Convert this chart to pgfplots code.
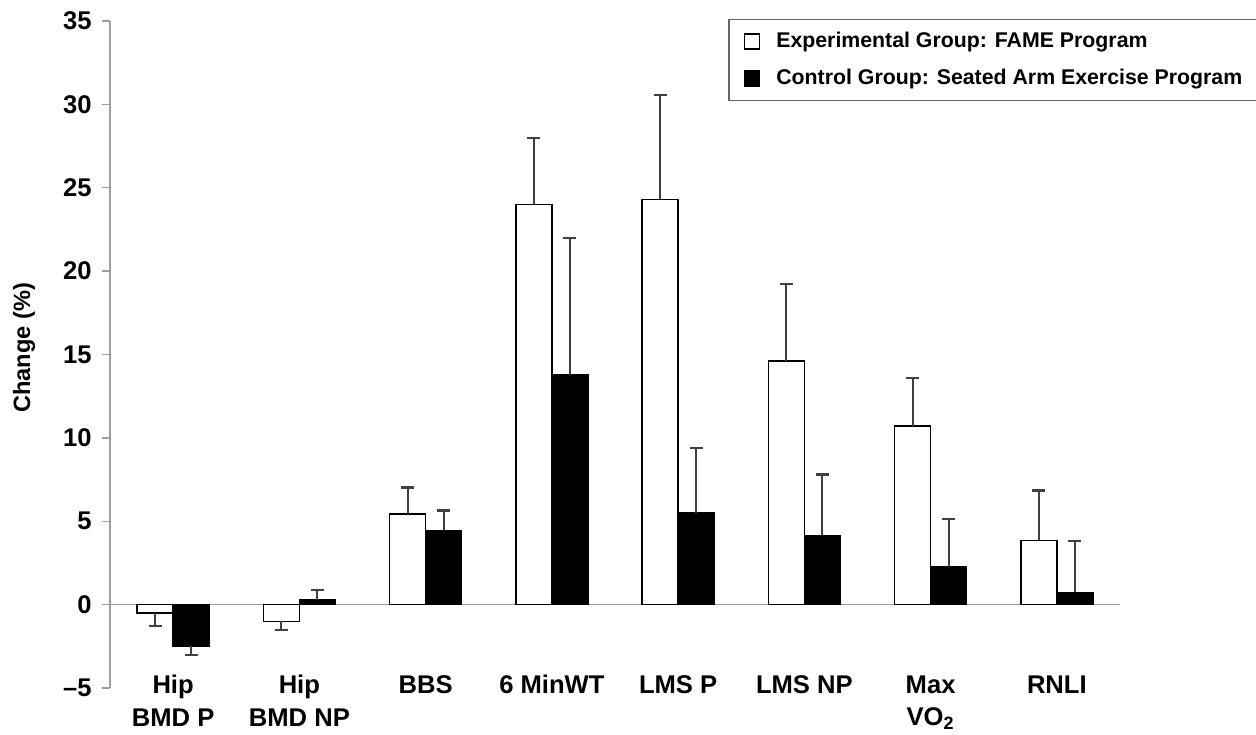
\documentclass[border=0pt]{standalone}
\usepackage{pgfplots}
\pgfplotsset{compat=1.18}
\usepackage{fontspec}
\setmainfont{Liberation Sans}
\definecolor{axgray}{gray}{0.62}
\definecolor{errgray}{gray}{0.25}
\newcommand\tickfont{\bfseries\fontsize{12.8}{16.3}\selectfont}
\newcommand\legfont{\bfseries\fontsize{10.65}{12}\selectfont}
\pgfplotsset{sqlegend/.style={legend image code/.code={\draw[##1] (0pt,-3.75pt) rectangle (7.5pt,3.75pt);}},
  errplot/.style={sharp plot, draw=none, mark=none, forget plot,
    error bars/.cd, y dir=plus, y explicit, error mark=|,
    error bar style={draw=errgray, solid, line width=1.1pt},
    error mark options={draw=errgray, solid, line width=1.1pt, mark size=3.25pt}}}
\begin{document}
\begin{tikzpicture}
\begin{axis}[
  name=ax,
  scale only axis, width=505pt, height=333.5pt,
  xmin=-0.5, xmax=7.5, ymin=-5, ymax=35,
  axis lines*=left,
  x axis line style={draw=none},
  y axis line style={axgray, line width=0.65pt},
  tick align=outside,
  major tick length=4pt,
  ytick={-5,0,5,10,15,20,25,30,35},
  yticklabels={\textendash5,0,5,10,15,20,25,30,35},
  ytick style={axgray, line width=0.65pt},
  yticklabel style={font=\tickfont, inner sep=0pt, xshift=-5pt},
  xtick={0,1,2,3,4,5,6,7},
  xticklabels={Hip\\BMD P, Hip\\BMD NP, BBS, 6 MinWT, LMS P, LMS NP, Max\\VO\textsubscript{2}, RNLI},
  xtick style={draw=none},
  xticklabel style={font=\tickfont, align=center, anchor=north, inner sep=0pt, yshift=10.5pt},
  ylabel={Change (\%)},
  ylabel style={at={(axis description cs:-0.085,0.51)}, anchor=center, font=\bfseries\fontsize{11.8}{13}\selectfont},
  legend style={at={(axis description cs:0.612,1.003)}, anchor=north west, draw=black!60, line width=0.7pt, fill=white, font=\legfont, inner xsep=7.5pt, inner ysep=6.5pt, row sep=9.5pt, column sep=8pt, nodes={inner sep=0pt, text height=7.5pt, text depth=1.5pt}},
  legend cell align=left,
]
\addplot[sharp plot, axgray, line width=0.65pt, forget plot] coordinates {(-0.5,0) (7.5,0)};
\addplot[ybar, bar width=18pt, bar shift=-9pt, draw=black, fill=white, line width=0.75pt, sqlegend]
coordinates {(0,-0.5) (1,-1.0) (2,5.44) (3,24.0) (4,24.3) (5,14.6) (6,10.7) (7,3.85)};
\addlegendentry{Experimental Group: FAME Program}
\addplot[ybar, bar width=18pt, bar shift=9pt, draw=black, fill=black, line width=0.75pt, sqlegend]
coordinates {(0,-2.5) (1,0.3) (2,4.45) (3,13.8) (4,5.5) (5,4.15) (6,2.25) (7,0.73)};
\addlegendentry{Control Group: Seated Arm Exercise Program}
% error bars (one-sided), at the centres of the bars
\addplot[errplot] coordinates {
  (-0.1426,-0.5) += (0,-0.8)
  (0.8574,-1.0) += (0,-0.5)
  (1.8574,5.44) += (0,1.58)
  (2.8574,24.0) += (0,4.0)
  (3.8574,24.3) += (0,6.25)
  (4.8574,14.6) += (0,4.65)
  (5.8574,10.7) += (0,2.9)
  (6.8574,3.85) += (0,3.0)
};
\addplot[errplot] coordinates {
  (0.1426,-2.5) += (0,-0.5)
  (1.1426,0.3) += (0,0.6)
  (2.1426,4.45) += (0,1.2)
  (3.1426,13.8) += (0,8.2)
  (4.1426,5.5) += (0,3.9)
  (5.1426,4.15) += (0,3.65)
  (6.1426,2.25) += (0,2.9)
  (7.1426,0.73) += (0,3.1)
};
\end{axis}
\pgfresetboundingbox
\path[use as bounding box] ([shift={(-55pt,-23pt)}]ax.south west) rectangle ([shift={(68pt,10.5pt)}]ax.north east);
\end{tikzpicture}
\end{document}
